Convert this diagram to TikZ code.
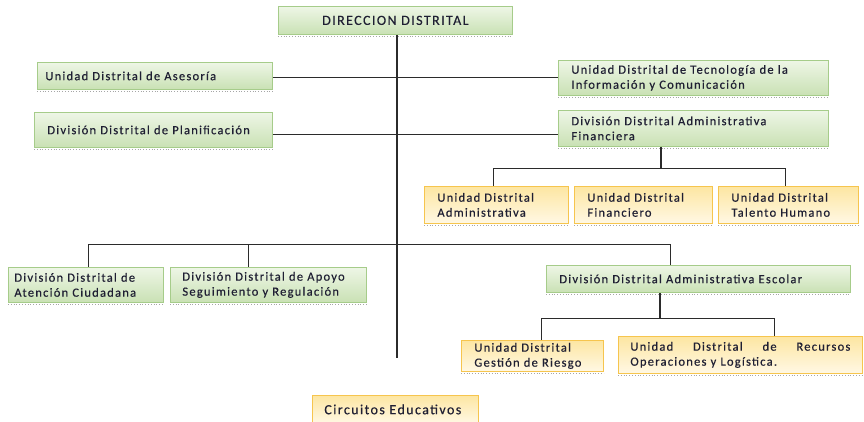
\documentclass[tikz,border=0pt]{standalone}
\usepackage{fontspec}
\setmainfont[LetterSpace=10,FakeBold=0.4]{Carlito}
\definecolor{gtop}{HTML}{EEF6E6}
\definecolor{gbot}{HTML}{C9E1B4}
\definecolor{gline}{HTML}{A6CC8A}
\definecolor{ytop}{HTML}{FDE6A2}
\definecolor{ybot}{HTML}{FFF8E4}
\definecolor{yline}{HTML}{F6C54E}
\definecolor{txt}{HTML}{1F1F33}
\definecolor{conn}{HTML}{2B2B2B}
\tikzset{
  box/.style={anchor=north west, align=left, inner xsep=12pt, inner ysep=2pt,
    font=\fontsize{12.5}{15}\selectfont, text=txt, line width=0.8pt},
  bigtext/.style={font=\fontsize{14}{16}\selectfont},
  gbox/.style={box, draw=gline, top color=gtop, bottom color=gbot},
  ybox/.style={box, draw=yline, top color=ytop, bottom color=ybot},
  conn/.style={draw=conn, line width=1pt},
  mainline/.style={draw=conn, line width=1.6pt},
  shadow/.style={draw=gray!70, dotted, line width=0.8pt}
}
\begin{document}
\begin{tikzpicture}[x=1pt,y=-1pt]
\useasboundingbox (0,0) rectangle (864,421);
\clip (0,0) rectangle (864,421);
% boxes
\node[gbox, bigtext, minimum width=234pt, minimum height=28pt, text width=210pt, align=center] (dir) at (278,6) {DIRECCION DISTRITAL};
\node[gbox, minimum width=235pt, minimum height=27pt, text width=219pt, inner xsep=8pt] (ases) at (37,62) {Unidad Distrital de Asesoría};
\node[gbox, minimum width=238pt, minimum height=35pt, text width=212pt, inner xsep=13pt] (plan) at (34,112) {División Distrital de Planificación};
\node[gbox, minimum width=270pt, minimum height=35pt, text width=244pt, inner xsep=13pt] (tec) at (558,60) {Unidad Distrital de Tecnología de la\\Información y Comunicación};
\node[gbox, minimum width=270pt, minimum height=36pt, text width=244pt, inner xsep=13pt] (fin) at (558,110) {División Distrital Administrativa\\Financiera};
\node[ybox, minimum width=144pt, minimum height=37pt, text width=118pt, inner xsep=13pt] (adm) at (424,186) {Unidad Distrital\\Administrativa};
\node[ybox, minimum width=138pt, minimum height=37pt, text width=112pt, inner xsep=13pt] (finc) at (574,186) {Unidad Distrital\\Financiero};
\node[ybox, minimum width=140pt, minimum height=37pt, text width=114pt, inner xsep=13pt] (tal) at (718,186) {Unidad Distrital\\Talento Humano};
\node[gbox, minimum width=155pt, minimum height=35pt, text width=143pt, inner xsep=6pt] (aten) at (8,267) {División Distrital de\\Atención Ciudadana};
\node[gbox, minimum width=196pt, minimum height=35pt, text width=172pt, inner xsep=12pt] (apoyo) at (170,267) {División Distrital de Apoyo\\Seguimiento y Regulación};
\node[gbox, minimum width=304pt, minimum height=27pt, text width=278pt, inner xsep=13pt] (esc) at (546,265) {División Distrital Administrativa Escolar};
\node[ybox, minimum width=142pt, minimum height=31pt, text width=116pt, inner xsep=13pt] (ries) at (461,340) {Unidad Distrital\\Gestión de Riesgo};
\node[ybox, minimum width=244pt, minimum height=37pt, text width=220pt, inner xsep=12pt] (rec) at (618,336) {\hbox to \linewidth{Unidad\hfill Distrital\hfill de\hfill Recursos}\\Operaciones y Logística.};
\node[ybox, bigtext, minimum width=166pt, minimum height=28pt, text width=142pt, inner xsep=12pt] (circ) at (312,395) {Circuitos Educativos};
% dotted shadows under boxes
\foreach \n in {dir,ases,plan,tec,fin,adm,finc,tal,aten,apoyo,esc,ries,rec}
  \draw[shadow] ([yshift=-1.5pt]\n.south west) -- ([yshift=-1.5pt]\n.south east);
% connectors
\coordinate (mainend) at (397,358);
\draw[mainline] (dir.south -| mainend) -- (mainend);
\coordinate (l1) at (0,77);
\draw[conn] (ases.east |- l1) -- (tec.west |- l1);
\coordinate (l2) at (0,134);
\draw[conn] (plan.east |- l2) -- (fin.west |- l2);
% financiera branch
\coordinate (fx) at (661,168);
\coordinate (fa) at (493,168);
\coordinate (ft) at (785,168);
\draw[mainline] (fin.south -| fx) -- (fx);
\draw[conn] (fa) -- (ft);
\draw[conn] (fa) -- (fa |- adm.north);
\draw[conn] (ft) -- (ft |- tal.north);
% middle branch
\coordinate (ma) at (88,244);
\coordinate (mb) at (248,244);
\coordinate (mc) at (670,244);
\draw[conn] (ma) -- (mc);
\draw[conn] (ma) -- (ma |- aten.north);
\draw[conn] (mb) -- (mb |- apoyo.north);
\draw[conn] (mc) -- (mc |- esc.north);
% escolar branch
\coordinate (ex) at (660,318);
\coordinate (ea) at (541,318);
\coordinate (eb) at (774,318);
\draw[mainline] (esc.south -| ex) -- (ex);
\draw[conn] (ea) -- (eb);
\draw[conn] (ea) -- (ea |- ries.north);
\draw[conn] (eb) -- (eb |- rec.north);
\end{tikzpicture}
\end{document}
